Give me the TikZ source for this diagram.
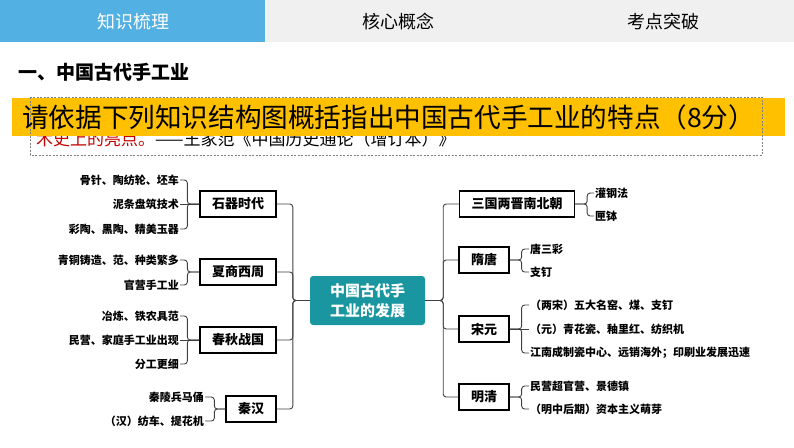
\documentclass[tikz,border=0pt]{standalone}
\usepackage{fontspec}
\newfontfamily\cjk{Noto Sans CJK SC}
\definecolor{tabblue}{RGB}{82,176,226}
\definecolor{tabgray}{RGB}{240,240,240}
\definecolor{bandyellow}{RGB}{255,192,0}
\definecolor{hubteal}{RGB}{26,150,160}
\definecolor{linegray}{RGB}{64,64,64}
\definecolor{quotered}{RGB}{192,0,0}
\begin{document}
\begin{tikzpicture}
		[x=1pt,y=-1pt,
		tab/.style={inner sep=0pt,font=\cjk\fontsize{18}{20}\selectfont},
		hub/.style={fill=hubteal,rounded corners=3pt,minimum width=115pt,minimum height=49pt,text=white,align=center,font=\cjk\bfseries\fontsize{15}{20}\selectfont},
		period/.style={draw=black,line width=1.3pt,fill=white,minimum height=26pt,inner xsep=12pt,inner ysep=0pt,font=\cjk\bfseries\fontsize{13}{15}\selectfont},
		leafl/.style={anchor=east,inner sep=1pt,font=\cjk\bfseries\fontsize{11}{13}\selectfont},
		leafr/.style={anchor=west,inner sep=1pt,font=\cjk\bfseries\fontsize{11}{13}\selectfont},
		link/.style={draw=linegray,line width=0.9pt,rounded corners=3pt}]
		\useasboundingbox (0,0) rectangle (794,447);
		% tab bar
		\fill[tabgray] (0,0) rectangle (794,42);
		\fill[tabblue] (0,0) rectangle (265,42);
		\node[tab,text=white] (tab1) at (133,22) {知识梳理};
		\node[tab] (tab2) at (398,22) {核心概念};
		\node[tab] (tab3) at (663,22) {考点突破};
		\node[anchor=west,inner sep=0pt,font=\cjk\bfseries\fontsize{19}{22}\selectfont] (title) at (18,72) {一、中国古代手工业};
		% quote, mostly under the band
		\node[anchor=west,inner sep=0pt,font=\cjk\fontsize{17}{19}\selectfont] (quote) at (36,139.5) {\textcolor{quotered}{术史上的亮点。}——王家范《中国历史通论（增订本）》};
		\fill[bandyellow] (12,98) rectangle (785,136);
		\draw[gray,line width=0.6pt,dash pattern=on 2pt off 1.5pt] (30,97) rectangle (762,155);
		\node[anchor=west,inner sep=0pt,font=\cjk\fontsize{26.6}{30}\selectfont] (task) at (22,117) {请依据下列知识结构图概括指出中国古代手工业的特点（8分）};
		% centre and periods
		\node[hub] (hub) at (367.5,300.5) {中国古代手\\工业的发展};
		\node[period] (shiqi) at (238,204) {石器时代};
		\node[period] (xiashang) at (238,272) {夏商西周};
		\node[period] (chunqiu) at (238,340) {春秋战国};
		\node[period] (qinhan) at (251,409) {秦汉};
		\node[period] (sanguo) at (517,204) {三国两晋南北朝};
		\node[period] (suitang) at (484,260) {隋唐};
		\node[period] (songyuan) at (484,329) {宋元};
		\node[period] (mingqing) at (484,397) {明清};
		\foreach \p in {shiqi,xiashang,chunqiu,qinhan}
		{
			\draw[link] (hub.west) -- ++(-17,0) |- (\p.east);
		}
		\foreach \p in {sanguo,suitang,songyuan,mingqing}
		{
			\draw[link] (hub.east) -- ++(18,0) |- (\p.west);
		}
		% left leaves
		\node[leafl] (gu) at (180,180) {骨针、陶纺轮、坯车};
		\node[leafl] (ni) at (180,204) {泥条盘筑技术};
		\node[leafl] (cai) at (180,229) {彩陶、黑陶、精美玉器};
		\node[leafl] (qing) at (180,260) {青铜铸造、范、种类繁多};
		\node[leafl] (guan) at (180,285) {官营手工业};
		\node[leafl] (ye) at (180,316) {冶炼、铁农具范};
		\node[leafl] (min) at (180,340) {民营、家庭手工业出现};
		\node[leafl] (fen) at (180,364) {分工更细};
		\node[leafl] (bing) at (205,397) {秦陵兵马俑};
		\node[leafl] (fang) at (205,421) {（汉）纺车、提花机};
		\foreach \l in {gu,cai}
		{
			\draw[link] (shiqi.west) -- ++(-12,0) |- (\l.east);
		}
		\draw[link] (shiqi.west) -- (ni.east);
		\foreach \l in {qing,guan}
		{
			\draw[link] (xiashang.west) -- ++(-12,0) |- (\l.east);
		}
		\foreach \l in {ye,fen}
		{
			\draw[link] (chunqiu.west) -- ++(-12,0) |- (\l.east);
		}
		\draw[link] (chunqiu.west) -- (min.east);
		\foreach \l in {bing,fang}
		{
			\draw[link] (qinhan.west) -- ++(-11,0) |- (\l.east);
		}
		% right leaves
		\node[leafr] (guangang) at (594,193) {灌钢法};
		\node[leafr] (xiabo) at (594,216) {匣钵};
		\node[leafr] (sancai) at (529,249) {唐三彩};
		\node[leafr] (zhiding) at (529,272) {支钉};
		\node[leafr] (liangsong) at (529,305) {（两宋）五大名窑、煤、支钉};
		\node[leafr] (yuan) at (529,329) {（元）青花瓷、釉里红、纺织机};
		\node[leafr] (jiangnan) at (529,353) {江南成制瓷中心、远销海外；印刷业发展迅速};
		\node[leafr] (minying) at (529,386) {民营超官营、景德镇};
		\node[leafr] (mengya) at (529,409) {（明中后期）资本主义萌芽};
		\foreach \l in {guangang,xiabo}
		{
			\draw[link] (sanguo.east) -- ++(12,0) |- (\l.west);
		}
		\foreach \l in {sancai,zhiding}
		{
			\draw[link] (suitang.east) -- ++(12,0) |- (\l.west);
		}
		\foreach \l in {liangsong,jiangnan}
		{
			\draw[link] (songyuan.east) -- ++(12,0) |- (\l.west);
		}
		\draw[link] (songyuan.east) -- (yuan.west);
		\foreach \l in {minying,mengya}
		{
			\draw[link] (mingqing.east) -- ++(12,0) |- (\l.west);
		}
\end{tikzpicture}
\end{document}
